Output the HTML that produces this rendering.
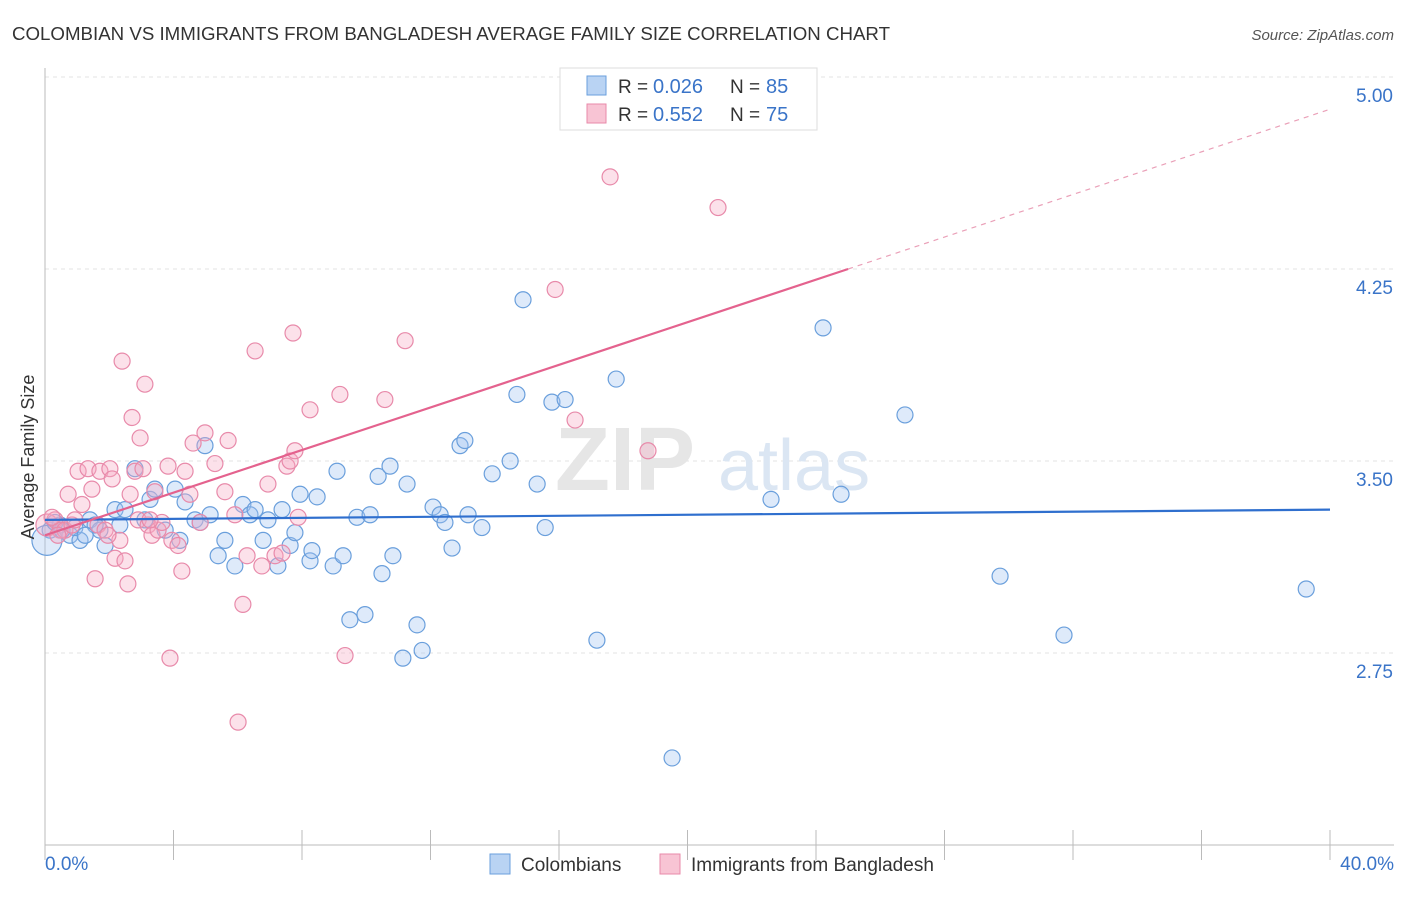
<!DOCTYPE html>
<html><head><meta charset="utf-8"><style>
body{margin:0;background:#fff;font-family:"Liberation Sans",sans-serif;}
svg text{font-family:"Liberation Sans",sans-serif;}
</style></head><body>
<svg id="chart" width="1406" height="892" xmlns="http://www.w3.org/2000/svg">
<text x="12" y="40" font-size="18" fill="#333" textLength="878" lengthAdjust="spacingAndGlyphs">COLOMBIAN VS IMMIGRANTS FROM BANGLADESH AVERAGE FAMILY SIZE CORRELATION CHART</text>
<text x="1394" y="40" font-size="15" fill="#555" text-anchor="end" font-style="italic">Source: ZipAtlas.com</text>
<g id="grid"></g>
<g>
<text x="555" y="490" font-size="90" fill="#e6e6e6" font-family="Liberation Serif" font-weight="bold">ZIP</text>
<text x="718" y="490" font-size="72" fill="#dbe6f3">atlas</text>
</g>
<g id="axes"></g>
<g id="marks"></g>
<g id="trends"></g>
<text transform="translate(34,457) rotate(-90)" font-size="18" fill="#333" text-anchor="middle">Average Family Size</text>
<g>
<rect x="560" y="68" width="257" height="62" fill="#fff" stroke="#ddd"/>
<rect x="587" y="76" width="19" height="19" fill="#b9d3f3" stroke="#6a9fdc"/>
<rect x="587" y="104" width="19" height="19" fill="#f8c4d4" stroke="#e88aaa"/>
<text x="618" y="93" font-size="19" fill="#333">R =</text>
<text x="653" y="93" font-size="20" fill="#3a74c8">0.026</text>
<text x="730" y="93" font-size="19" fill="#333">N =</text>
<text x="766" y="93" font-size="20" fill="#3a74c8">85</text>
<text x="618" y="121" font-size="19" fill="#333">R =</text>
<text x="653" y="121" font-size="20" fill="#3a74c8">0.552</text>
<text x="730" y="121" font-size="19" fill="#333">N =</text>
<text x="766" y="121" font-size="20" fill="#3a74c8">75</text>
</g>
<g>
<rect x="490" y="854" width="20" height="20" fill="#b9d3f3" stroke="#6a9fdc"/>
<text x="521" y="871" font-size="19" fill="#333">Colombians</text>
<rect x="660" y="854" width="20" height="20" fill="#f8c4d4" stroke="#e88aaa"/>
<text x="691" y="871" font-size="19" fill="#333">Immigrants from Bangladesh</text>
</g>
</svg>
<script>
const blueX=[0.16,0.47,0.78,1.09,1.40,1.71,1.87,2.18,2.49,2.80,3.11,3.27,3.42,3.74,4.05,4.20,4.36,4.67,4.98,5.14,5.39,5.60,5.91,6.16,6.38,6.54,6.79,6.94,7.25,7.38,7.63,7.78,7.94,8.25,8.31,8.47,8.97,9.09,9.28,9.49,9.71,9.96,10.12,10.37,10.49,10.74,10.83,11.14,11.27,11.58,11.74,12.08,12.30,12.45,12.67,12.92,13.07,13.17,13.60,13.92,14.48,14.69,14.88,15.32,15.57,15.78,16.19,17.18,17.78,19.52,22.60,24.22,24.78,26.77,29.73,31.72,39.26,0.06,0.31,0.53,0.93,1.56,4.83,2.33,1.25];
const blueY=[3.23,3.25,3.21,3.19,3.27,3.23,3.17,3.31,3.31,3.47,3.27,3.35,3.39,3.23,3.39,3.19,3.34,3.27,3.56,3.29,3.13,3.19,3.09,3.33,3.29,3.31,3.19,3.27,3.09,3.31,3.17,3.22,3.37,3.11,3.15,3.36,3.09,3.46,3.13,2.88,3.28,2.90,3.29,3.44,3.06,3.48,3.13,2.73,3.41,2.86,2.76,3.32,3.29,3.26,3.16,3.56,3.58,3.29,3.24,3.45,3.50,3.76,4.13,3.41,3.24,3.73,3.74,2.80,3.82,2.34,3.35,4.02,3.37,3.68,3.05,2.82,3.00,3.19,3.26,3.23,3.24,3.25,3.26,3.25,3.21];
const pinkX=[0.06,0.31,0.47,0.62,0.72,0.84,1.03,1.15,1.34,1.46,1.56,1.65,1.71,1.87,2.02,2.09,2.18,2.33,2.40,2.49,2.58,2.65,2.71,2.80,2.90,2.96,3.05,3.11,3.21,3.33,3.42,3.52,3.64,3.83,3.89,3.95,4.14,4.26,4.36,4.51,4.61,4.83,4.98,5.29,5.60,5.70,5.91,6.01,6.16,6.29,6.54,6.75,6.94,7.16,7.38,7.53,7.63,7.72,7.78,7.88,8.25,9.18,9.34,10.58,11.21,15.88,16.50,17.59,18.77,20.95,0.22,0.40,0.93,1.96,3.27];
const pinkY=[3.25,3.27,3.23,3.23,3.37,3.25,3.46,3.33,3.47,3.39,3.04,3.25,3.46,3.23,3.47,3.43,3.12,3.19,3.89,3.11,3.02,3.37,3.67,3.46,3.27,3.59,3.47,3.80,3.25,3.21,3.38,3.23,3.26,3.48,2.73,3.19,3.17,3.07,3.46,3.37,3.57,3.26,3.61,3.49,3.38,3.58,3.29,2.48,2.94,3.13,3.93,3.09,3.41,3.13,3.14,3.48,3.50,4.00,3.54,3.28,3.70,3.76,2.74,3.74,3.97,4.17,3.66,4.61,3.54,4.49,3.28,3.21,3.27,3.21,3.27];
const blueTrend=[3.27,3.31];
const pinkTrend=[3.21,4.874];
const pinkSolidEnd=25;
const yTicks=[2.75,3.50,4.25,5.00];
const xTickLabels=["0.0%","40.0%"];
const NS="http://www.w3.org/2000/svg";
const X0=45,X1=1330,XMAX=40;
function sx(v){return X0+(v/XMAX)*(X1-X0);}
function sy(v){return 77+(5-v)*256;}
function el(t,a,p){const e=document.createElementNS(NS,t);for(const k in a)e.setAttribute(k,a[k]);p.appendChild(e);return e;}
const grid=document.getElementById('grid'),axes=document.getElementById('axes'),marks=document.getElementById('marks'),trends=document.getElementById('trends');
yTicks.forEach(t=>{
 const l=el('line',{x1:X0,x2:1394,y1:sy(t),y2:sy(t),stroke:'#e3e3e3','stroke-dasharray':'4,4'},grid);
 
 
 const tx=el('text',{x:1393,y:sy(t)+25,'font-size':19,fill:'#3a74c8','text-anchor':'end'},axes);
 tx.textContent=t.toFixed(2);
 
 
});
const ya=el('line',{x1:X0,x2:X0,y1:68,y2:845,stroke:'#bbb'},axes);


const xa=el('line',{x1:X0,x2:1394,y1:845,y2:845,stroke:'#bbb'},axes);


for(let i=0;i<=10;i++){
 const t=el('line',{x1:sx(i*4),x2:sx(i*4),y1:830,y2:860,stroke:'#bbb'},axes);
 
 
}
[[0,'start',45],[40,'end',1394]].forEach((d,i)=>{
 const t=el('text',{x:d[2],y:870,'font-size':19,fill:'#3a74c8','text-anchor':d[1]},axes);
 t.textContent=xTickLabels[i];
 
 
});
function pts(xs,ys,stroke,fill,name,bigIdx,bigR){
 xs.forEach((x,i)=>{
  const c=el('circle',{cx:sx(x),cy:sy(ys[i]),r:i==bigIdx?bigR:8,fill:fill,stroke:stroke,'stroke-width':1.2},marks);
  
  
 });
}
pts(blueX,blueY,'#6a9fdc','rgba(160,196,240,0.35)','colombian-point',77,15);
pts(pinkX,pinkY,'#e88aaa','rgba(245,170,195,0.35)','bangladesh-point',0,11);
const bl=el('line',{x1:sx(0),y1:sy(blueTrend[0]),x2:sx(XMAX),y2:sy(blueTrend[1]),stroke:'#2f6fce','stroke-width':2.2},trends);


const pm=pinkTrend[0]+(pinkTrend[1]-pinkTrend[0])*pinkSolidEnd/XMAX;
const pl=el('line',{x1:sx(0),y1:sy(pinkTrend[0]),x2:sx(pinkSolidEnd),y2:sy(pm),stroke:'#e4628e','stroke-width':2.2},trends);


const pd=el('line',{x1:sx(pinkSolidEnd),y1:sy(pm),x2:sx(XMAX),y2:sy(pinkTrend[1]),stroke:'#eaa0b8','stroke-width':1.2,'stroke-dasharray':'5,5'},trends);


</script>
</body></html>
